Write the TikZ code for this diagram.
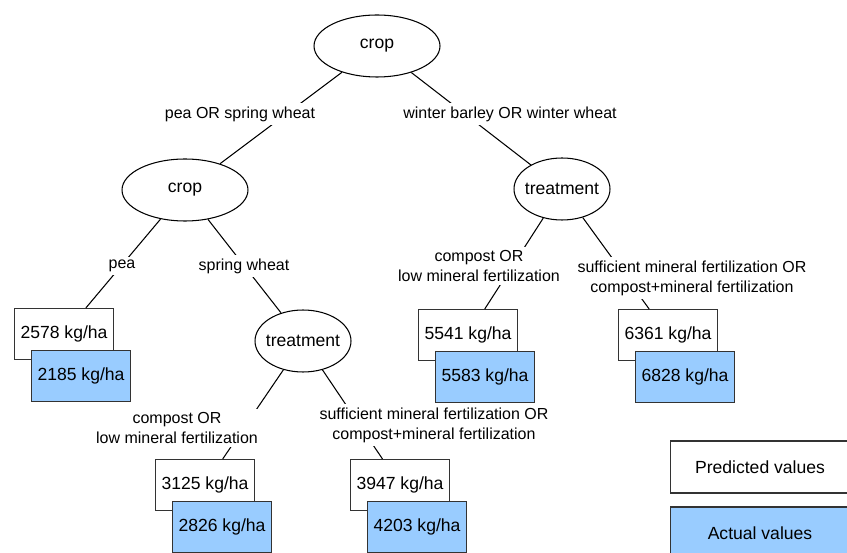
\documentclass[tikz,border=0pt]{standalone}
\usepackage{fontspec}
\setmainfont{Liberation Sans}
\usetikzlibrary{shapes.geometric}
\definecolor{actualblue}{HTML}{99CCFF}
\tikzstyle{split} = [ellipse, draw, line width=0.6pt, minimum width=2.52cm, minimum height=1.24cm, inner xsep=-8pt, text centered]
\tikzstyle{treat} = [split, minimum width=1.92cm]
\tikzstyle{pred} = [rectangle, draw=black!80, line width=0.6pt, fill=white, minimum width=1.94cm, minimum height=1.02cm, text centered]
\tikzstyle{actual} = [pred, fill=actualblue]
\tikzstyle{legend} = [pred, minimum width=3.6cm, minimum height=1.04cm]
\tikzstyle{cond} = [fill=white, inner sep=2pt, align=center, font=\fontsize{9.1}{11.4}\selectfont]
\tikzstyle{edge} = [line width=0.6pt]

\begin{document}
\begin{tikzpicture}[x=0.02cm, y=-0.02cm, font=\fontsize{10}{11.5}\selectfont]
                 \useasboundingbox (0,0) rectangle (847,553);
                 \node [split] at (377,46) (root) {crop};
                 \node [split] at (185,190) (crop2) {crop};
                 \node [treat] at (562,189) (treatR) {treatment};
                 \node [treat] at (303,341) (treatL) {treatment};
                 \node [pred] at (64,334) (pred1) {2578 kg/ha};
                 \node [actual] at (81,376) (act1) {2185 kg/ha};
                 \node [pred] at (205,485) (pred2) {3125 kg/ha};
                 \node [actual] at (222,527) (act2) {2826 kg/ha};
                 \node [pred] at (400,485) (pred3) {3947 kg/ha};
                 \node [actual] at (417,527) (act3) {4203 kg/ha};
                 \node [pred] at (468,335) (pred4) {5541 kg/ha};
                 \node [actual] at (485,377) (act4) {5583 kg/ha};
                 \node [pred] at (668,335) (pred5) {6361 kg/ha};
                 \node [actual] at (685,377) (act5) {6828 kg/ha};
                 \draw [edge] (root) -- (crop2);
                 \draw [edge] (root) -- (treatR);
                 \draw [edge] (crop2) -- (pred1);
                 \draw [edge] (crop2) -- (treatL);
                 \draw [edge] (treatL) -- (pred2);
                 \draw [edge] (treatL) -- (pred3);
                 \draw [edge] (treatR) -- (pred4);
                 \draw [edge] (treatR) -- (pred5);
                 \node [cond] at (240,114) (c1) {pea OR spring wheat};
                 \node [cond] at (510,114) (c2) {winter barley OR winter wheat};
                 \node [cond] at (122,266) (c3) {pea};
                 \node [cond] at (244,266) (c4) {spring wheat};
                 \node [cond] at (479,266) (c5) {compost OR\\low mineral fertilization};
                 \node [cond] at (692,278) (c6) {sufficient mineral fertilization OR\\compost+mineral fertilization};
                 \node [cond] at (177,428) (c7) {compost OR\\low mineral fertilization};
                 \node [cond] at (434,425) (c8) {sufficient mineral fertilization OR\\compost+mineral fertilization};
                 \node [legend] at (760,467) (legpred) {Predicted values};
                 \node [legend, fill=actualblue] at (760,533) (legact) {Actual values};
                 \end{tikzpicture}
\end{document}
